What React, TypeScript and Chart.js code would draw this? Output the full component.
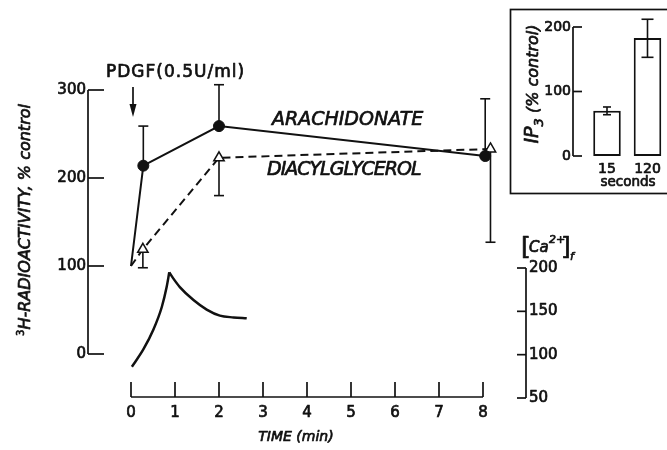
import React, { useEffect, useRef } from "react";
import { Chart, registerables } from "chart.js";

Chart.register(...registerables);

// ---------- data ----------
const timeTicks = [0, 1, 2, 3, 4, 5, 6, 7, 8];
const leftTicks = [0, 100, 200, 300];
const caTicks = [50, 100, 150, 200];
const insetTicks = [0, 100, 200];

const arachTime = [0, 0.28, 2, 8.05];
const arachValue = [100, 214, 259, 225];
const arachErrTop = [null, 259, 306, 290];

const dagTime = [0, 0.27, 2, 8.17];
const dagValue = [100, 119, 223, 233];
const dagErrBottom = [null, 98, 180, 127];

const caRiseTime = [0.02, 0.28, 0.51, 0.7, 0.81, 0.87];
const caRiseValue = [86, 106, 129, 155, 178, 195];
const caFallTime = [0.87, 0.96, 1.11, 1.42, 1.72, 2.02, 2.33, 2.63];
const caFallValue = [195, 188, 178, 163, 152, 145, 143, 142];

const insetCategories = ["15", "120"];
const insetValues = [70, 183];
const insetErrLow = [64, 153];
const insetErrHigh = [76, 212];

// ---------- style ----------
const INK = "#111";
const FONT = "'DejaVu Sans', sans-serif";

function pts(xs: number[], ys: number[]) {
  return xs.map((x, i) => ({ x, y: ys[i] }));
}

function seg(ctx: CanvasRenderingContext2D, x1: number, y1: number, x2: number, y2: number) {
  ctx.beginPath();
  ctx.moveTo(x1, y1);
  ctx.lineTo(x2, y2);
  ctx.stroke();
}

// filled text with a slight stroke so it has the weight of the scanned lettering
function txt(ctx: CanvasRenderingContext2D, s: string, x: number, y: number) {
  ctx.save();
  ctx.lineWidth = 0.7;
  ctx.lineJoin = "round";
  ctx.fillText(s, x, y);
  ctx.strokeText(s, x, y);
  ctx.restore();
}

const mainPlugin = {
  id: "mainDecor",
  beforeDatasetsDraw(chart: any) {
    const { ctx } = chart;
    const x = chart.scales.x;
    const y = chart.scales.y;
    ctx.save();
    ctx.strokeStyle = INK;
    ctx.lineWidth = 1.6;
    const cap = 5;
    arachTime.forEach((t, i) => {
      const e = arachErrTop[i];
      if (e == null) return;
      const px = x.getPixelForValue(t);
      const py0 = y.getPixelForValue(arachValue[i]);
      const py1 = y.getPixelForValue(e);
      seg(ctx, px, py0, px, py1);
      seg(ctx, px - cap, py1, px + cap, py1);
    });
    dagTime.forEach((t, i) => {
      const e = dagErrBottom[i];
      if (e == null) return;
      const px = x.getPixelForValue(t);
      const py0 = y.getPixelForValue(dagValue[i]);
      const py1 = y.getPixelForValue(e);
      seg(ctx, px, py0, px, py1);
      seg(ctx, px - cap, py1, px + cap, py1);
    });
    ctx.restore();
  },
  afterDraw(chart: any) {
    const { ctx } = chart;
    const x = chart.scales.x;
    const y = chart.scales.y;
    const y2 = chart.scales.y2;
    ctx.save();
    ctx.strokeStyle = INK;
    ctx.fillStyle = INK;
    ctx.lineWidth = 1.7;

    // left axis
    const lx = 88;
    seg(ctx, lx, y.getPixelForValue(0), lx, y.getPixelForValue(300));
    ctx.font = `15px ${FONT}`;
    ctx.textAlign = "right";
    ctx.textBaseline = "middle";
    leftTicks.forEach((v) => {
      const py = y.getPixelForValue(v);
      seg(ctx, lx, py, lx + 16, py);
      txt(ctx, String(v), lx - 2, py);
    });

    // x axis
    const by = 397;
    seg(ctx, x.getPixelForValue(0), by, x.getPixelForValue(8), by);
    ctx.textAlign = "center";
    timeTicks.forEach((t) => {
      const px = x.getPixelForValue(t);
      seg(ctx, px, by, px, by - 15);
      txt(ctx, String(t), px, 413);
    });
    ctx.font = `italic 14px ${FONT}`;
    txt(ctx, "TIME (min)", 296, 437);

    // Ca axis
    const rx = 526;
    seg(ctx, rx, y2.getPixelForValue(50), rx, y2.getPixelForValue(200));
    ctx.font = `15px ${FONT}`;
    ctx.textAlign = "left";
    caTicks.forEach((v) => {
      const py = y2.getPixelForValue(v);
      seg(ctx, rx - 9, py, rx, py);
      txt(ctx, String(v), rx + 3, py);
    });

    // [Ca2+]f label
    ctx.textBaseline = "alphabetic";
    ctx.font = `25px ${FONT}`;
    txt(ctx, "[", 521, 255);
    ctx.font = `italic 15px ${FONT}`;
    txt(ctx, "Ca", 529, 252);
    ctx.font = `italic 11px ${FONT}`;
    txt(ctx, "2+", 549, 243);
    ctx.font = `25px ${FONT}`;
    txt(ctx, "]", 561, 255);
    ctx.font = `italic 11px ${FONT}`;
    txt(ctx, "f", 570, 260);

    // series labels
    ctx.textBaseline = "middle";
    ctx.font = `italic 19px ${FONT}`;
    txt(ctx, "ARACHIDONATE", 272, 120);
    (ctx as any).letterSpacing = "-1px";
    txt(ctx, "DIACYLGLYCEROL", 267, 170);
    (ctx as any).letterSpacing = "0px";

    // PDGF label + arrow
    ctx.font = `17px ${FONT}`;
    (ctx as any).letterSpacing = "1px";
    txt(ctx, "PDGF(0.5U/ml)", 106, 73);
    (ctx as any).letterSpacing = "0px";
    const ax = 133;
    seg(ctx, ax, 87, ax, 108);
    ctx.beginPath();
    ctx.moveTo(ax - 3.5, 104);
    ctx.lineTo(ax + 3.5, 104);
    ctx.lineTo(ax, 117);
    ctx.closePath();
    ctx.fill();

    // y title
    ctx.translate(24, 220);
    ctx.rotate(-Math.PI / 2);
    const main = "H-RADIOACTIVITY, % control";
    ctx.font = `10px ${FONT}`;
    const wSup = ctx.measureText("3").width;
    ctx.font = `italic 16px ${FONT}`;
    const wMain = ctx.measureText(main).width;
    const start = -(wSup + wMain) / 2;
    ctx.textAlign = "left";
    ctx.textBaseline = "alphabetic";
    ctx.font = `10px ${FONT}`;
    txt(ctx, "3", start, 0);
    ctx.font = `italic 16px ${FONT}`;
    txt(ctx, main, start + wSup, 6);
    ctx.restore();
  },
};

const insetPlugin = {
  id: "insetDecor",
  beforeDraw(chart: any) {
    const { ctx } = chart;
    ctx.save();
    ctx.fillStyle = "#fff";
    ctx.fillRect(5, 9, 300, 185);
    ctx.strokeStyle = INK;
    ctx.lineWidth = 1.7;
    ctx.strokeRect(5.5, 9.5, 300, 184);
    ctx.restore();
  },
  afterDraw(chart: any) {
    const { ctx } = chart;
    const x = chart.scales.x;
    const y = chart.scales.y;
    ctx.save();
    ctx.strokeStyle = INK;
    ctx.fillStyle = INK;
    ctx.lineWidth = 1.7;
    const ax = 68;
    seg(ctx, ax, y.getPixelForValue(0), ax, y.getPixelForValue(200));
    ctx.font = `14px ${FONT}`;
    ctx.textAlign = "right";
    ctx.textBaseline = "middle";
    insetTicks.forEach((v) => {
      const py = y.getPixelForValue(v);
      seg(ctx, ax, py, ax + 9, py);
      txt(ctx, String(v), ax - 2, py);
    });
    // error bars
    ctx.lineWidth = 1.6;
    insetCategories.forEach((c, i) => {
      const px = x.getPixelForValue(i);
      const lo = y.getPixelForValue(insetErrLow[i]);
      const hi = y.getPixelForValue(insetErrHigh[i]);
      const cap = i === 0 ? 4 : 6;
      seg(ctx, px, lo, px, hi);
      seg(ctx, px - cap, lo, px + cap, lo);
      seg(ctx, px - cap, hi, px + cap, hi);
    });
    // category labels
    ctx.textAlign = "center";
    ctx.font = `14px ${FONT}`;
    insetCategories.forEach((c, i) => {
      txt(ctx, c, x.getPixelForValue(i), 169);
    });
    ctx.font = `13.5px ${FONT}`;
    txt(ctx, "seconds", 123, 182);

    // title
    ctx.translate(27, 84);
    ctx.rotate(-Math.PI / 2);
    ctx.textAlign = "left";
    ctx.textBaseline = "alphabetic";
    ctx.font = `italic 19px ${FONT}`;
    const wIP = ctx.measureText("IP").width;
    ctx.font = `italic 13px ${FONT}`;
    const w3 = ctx.measureText("3").width;
    ctx.font = `italic 16px ${FONT}`;
    const rest = " (% control)";
    const wRest = ctx.measureText(rest).width;
    const s = -(wIP + w3 + wRest) / 2;
    ctx.font = `italic 19px ${FONT}`;
    txt(ctx, "IP", s, 6);
    ctx.font = `italic 13px ${FONT}`;
    txt(ctx, "3", s + wIP, 11);
    ctx.font = `italic 16px ${FONT}`;
    txt(ctx, rest, s + wIP + w3, 6);
    ctx.restore();
  },
};

export default function App() {
  const mainRef = useRef<HTMLCanvasElement>(null);
  const insetRef = useRef<HTMLCanvasElement>(null);

  useEffect(() => {
    const main = new Chart(mainRef.current as HTMLCanvasElement, {
      type: "line",
      data: {
        datasets: [
          {
            label: "Arachidonate",
            data: pts(arachTime, arachValue),
            borderColor: INK,
            borderWidth: 2,
            pointStyle: "circle",
            pointRadius: arachTime.map((_, i) => (i === 0 ? 0 : 5.5)),
            pointBackgroundColor: INK,
            pointBorderColor: INK,
            pointBorderWidth: 1,
            tension: 0,
            yAxisID: "y",
            clip: false,
          } as any,
          {
            label: "Diacylglycerol",
            data: pts(dagTime, dagValue),
            borderColor: INK,
            borderWidth: 2,
            borderDash: [8, 5],
            pointStyle: "triangle",
            pointRadius: dagTime.map((_, i) => (i === 0 ? 0 : 6)),
            pointBackgroundColor: "#fff",
            pointBorderColor: INK,
            pointBorderWidth: 1.5,
            tension: 0,
            yAxisID: "y",
            clip: false,
          } as any,
          {
            label: "[Ca2+]f rise",
            data: pts(caRiseTime, caRiseValue),
            borderColor: INK,
            borderWidth: 2.5,
            pointRadius: 0,
            cubicInterpolationMode: "monotone",
            yAxisID: "y2",
            clip: false,
          } as any,
          {
            label: "[Ca2+]f decay",
            data: pts(caFallTime, caFallValue),
            borderColor: INK,
            borderWidth: 2.5,
            pointRadius: 0,
            cubicInterpolationMode: "monotone",
            yAxisID: "y2",
            clip: false,
          } as any,
        ],
      },
      options: {
        responsive: false,
        animation: false,
        events: [],
        layout: { padding: { left: 87, right: 118, top: 10, bottom: 10 } },
        plugins: { legend: { display: false }, tooltip: { enabled: false } },
        scales: {
          x: { type: "linear", min: -1, max: 9.5, display: false },
          y: { type: "linear", min: -97.73, max: 390.91, display: false },
          y2: { type: "linear", min: 1.54, max: 497.7, display: false },
        },
      },
      plugins: [mainPlugin],
    });

    const inset = new Chart(insetRef.current as HTMLCanvasElement, {
      type: "bar",
      data: {
        labels: insetCategories,
        datasets: [
          {
            label: "IP3",
            data: insetValues,
            backgroundColor: "#fff",
            borderColor: INK,
            borderWidth: 2,
            borderSkipped: false,
            categoryPercentage: 1,
            barPercentage: 0.68,
          } as any,
        ],
      },
      options: {
        responsive: false,
        animation: false,
        events: [],
        layout: { padding: { left: 81.75, right: 17.25, top: 27, bottom: 44 } },
        plugins: { legend: { display: false }, tooltip: { enabled: false } },
        scales: {
          x: { display: false, offset: true },
          y: { display: false, min: 0, max: 200 },
        },
      },
      plugins: [insetPlugin],
    });

    return () => {
      main.destroy();
      inset.destroy();
    };
  }, []);

  return (
    <div
      style={{
        position: "absolute",
        left: 0,
        top: 0,
        width: 667,
        height: 450,
        overflow: "hidden",
        background: "#fff",
      }}
    >
      <canvas ref={mainRef} width={667} height={450} style={{ position: "absolute", left: 0, top: 0 }} />
      <canvas ref={insetRef} width={180} height={200} style={{ position: "absolute", left: 505, top: 0 }} />
    </div>
  );
}
